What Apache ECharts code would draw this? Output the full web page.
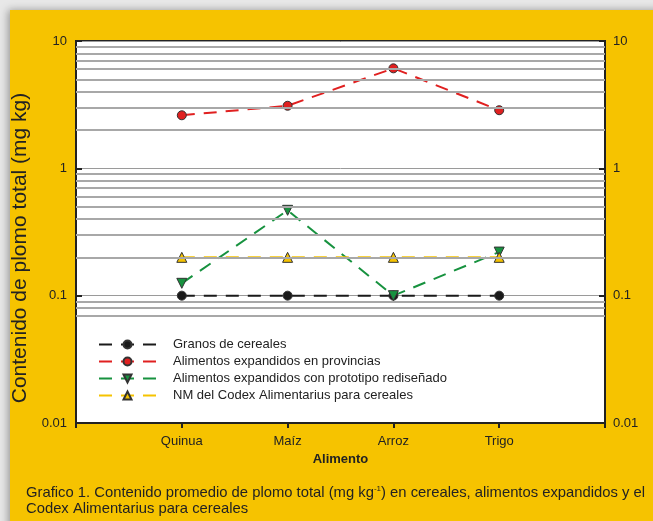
<!DOCTYPE html>
<html>
<head>
<meta charset="utf-8">
<script src="https://cdn.jsdelivr.net/npm/echarts@6/dist/echarts.min.js"></script>
<style>
  html, body { margin: 0; padding: 0; background: #e8e8e8; }
  #chart { width: 653px; height: 521px; }
</style>
</head>
<body>
<div id="chart"></div>
<script>
var alimentos = ['Quinua', 'Maíz', 'Arroz', 'Trigo'];
var granos = [0.1, 0.1, 0.1, 0.1];
var provincias = [2.61, 3.1, 6.1, 2.86];
var prototipo = [0.125, 0.468, 0.1, 0.22];
var codex = [0.2, 0.2, 0.2, 0.2];
var yTicks = [0.01, 0.1, 1, 10];
// lineas menores de la grilla log
var gridLines = [9, 8, 7, 6, 5, 4, 3, 2, 0.9, 0.8, 0.7, 0.6, 0.5, 0.4, 0.3, 0.2, 0.09, 0.08, 0.07];

var font = '"Liberation Sans", Arial, sans-serif';

function pts(arr) {
    var out = [];
    for (var i = 0; i < arr.length; i++) out.push([i + 1, arr[i]]);
    return out;
}

function serie(name, arr, color, symbol, rotate, fill) {
    return {
        name: name,
        type: 'line',
        data: pts(arr),
        symbol: symbol,
        symbolSize: symbol == 'circle' ? 9 : 10,
        symbolRotate: rotate,
        lineStyle: { color: color, width: 2, type: [13, 9] },
        itemStyle: { color: fill, borderColor: '#333', borderWidth: 1 },
        z: 3
    };
}

var chart = echarts.init(document.getElementById('chart'));

var option = {
    backgroundColor: '#e8e8e8',
    animation: false,
    textStyle: { fontFamily: font },
    graphic: [{
        type: 'rect',
        z: -1,
        shape: { x: 10, y: 10, width: 660, height: 530 },
        style: { fill: '#f6c300', shadowBlur: 8, shadowColor: 'rgba(0,0,0,0.35)', shadowOffsetX: -2 }
    }],
    title: {
        left: 21,
        top: 480,
        text: '{a|Grafico 1. Contenido promedio de plomo total (mg kg}{s|-1}{a|) en cereales, alimentos expandidos y el}\n{a|Codex Alimentarius para cereales}',
        textStyle: {
            fontWeight: 'normal',
            rich: {
                a: { fontFamily: font, fontSize: 14.8, fontWeight: 'normal', color: '#222', lineHeight: 16 },
                s: { fontFamily: font, fontSize: 8, fontWeight: 'normal', color: '#222', verticalAlign: 'top', lineHeight: 10, padding: [0, 0, 8, 0] }
            }
        }
    },
    grid: {
        left: 76, right: 48, top: 41, bottom: 98,
        show: true, backgroundColor: '#fff', borderColor: '#222', borderWidth: 2
    },
    legend: {
        orient: 'vertical',
        left: 93,
        top: 333,
        itemWidth: 57,
        itemHeight: 10,
        itemGap: 4,
        data: ['Granos de cereales', 'Alimentos expandidos en provincias',
            'Alimentos expandidos con prototipo rediseñado', 'NM del Codex Alimentarius para cereales'],
        textStyle: { fontFamily: font, fontSize: 13, color: '#222', padding: [0, 0, 0, 12] }
    },
    xAxis: {
        type: 'value',
        min: 0,
        max: 5,
        interval: 1,
        name: 'Alimento',
        nameLocation: 'middle',
        nameGap: 30,
        nameTextStyle: { fontFamily: font, fontSize: 13, fontWeight: 'bold', color: '#222' },
        splitLine: { show: false },
        axisLine: { lineStyle: { color: '#222', width: 2 } },
        axisTick: { length: 5, lineStyle: { color: '#222', width: 2 } },
        axisLabel: {
            margin: 12, fontFamily: font, fontSize: 13, color: '#222',
            formatter: function (v) { return alimentos[v - 1] || ''; }
        }
    },
    yAxis: [{
        type: 'log',
        logBase: 10,
        min: yTicks[0],
        max: yTicks[yTicks.length - 1],
        name: 'Contenido de plomo total (mg kg)',
        nameLocation: 'middle',
        nameGap: 37,
        nameTextStyle: { fontFamily: font, fontSize: 21, color: '#222', padding: [0, 32, 0, 0] },
        axisLine: { show: true, lineStyle: { color: '#222', width: 2 } },
        axisTick: { inside: true, length: 6, lineStyle: { color: '#222', width: 2 } },
        axisLabel: { margin: 9, fontFamily: font, fontSize: 13, color: '#222',
            formatter: function (v) { return String(v); } },
        splitLine: { show: true, lineStyle: { color: '#9a9a9a', width: 1 } }
    }, {
        type: 'log',
        logBase: 10,
        min: yTicks[0],
        max: yTicks[yTicks.length - 1],
        position: 'right',
        axisLine: { show: true, lineStyle: { color: '#222', width: 2 } },
        axisTick: { inside: true, length: 6, lineStyle: { color: '#222', width: 2 } },
        axisLabel: { margin: 8, fontFamily: font, fontSize: 13, color: '#222',
            formatter: function (v) { return String(v); } },
        splitLine: { show: false }
    }],
    series: [
        {
            name: 'grilla',
            type: 'line',
            data: [],
            z: 1,
            markLine: {
                silent: true,
                symbol: 'none',
                label: { show: false },
                lineStyle: { color: '#a8a8a8', width: 2, type: 'solid' },
                data: gridLines.map(function (v) { return { yAxis: v }; })
            }
        },
        serie('Granos de cereales', granos, '#1a1a1a', 'circle', 0, '#1a1a1a'),
        serie('Alimentos expandidos en provincias', provincias, '#e02020', 'circle', 0, '#e02020'),
        serie('Alimentos expandidos con prototipo rediseñado', prototipo, '#17923f', 'triangle', 180, '#17923f'),
        serie('NM del Codex Alimentarius para cereales', codex, '#f6c300', 'triangle', 0, '#f6c300')
    ]
};

chart.setOption(option);
</script>
</body>
</html>
